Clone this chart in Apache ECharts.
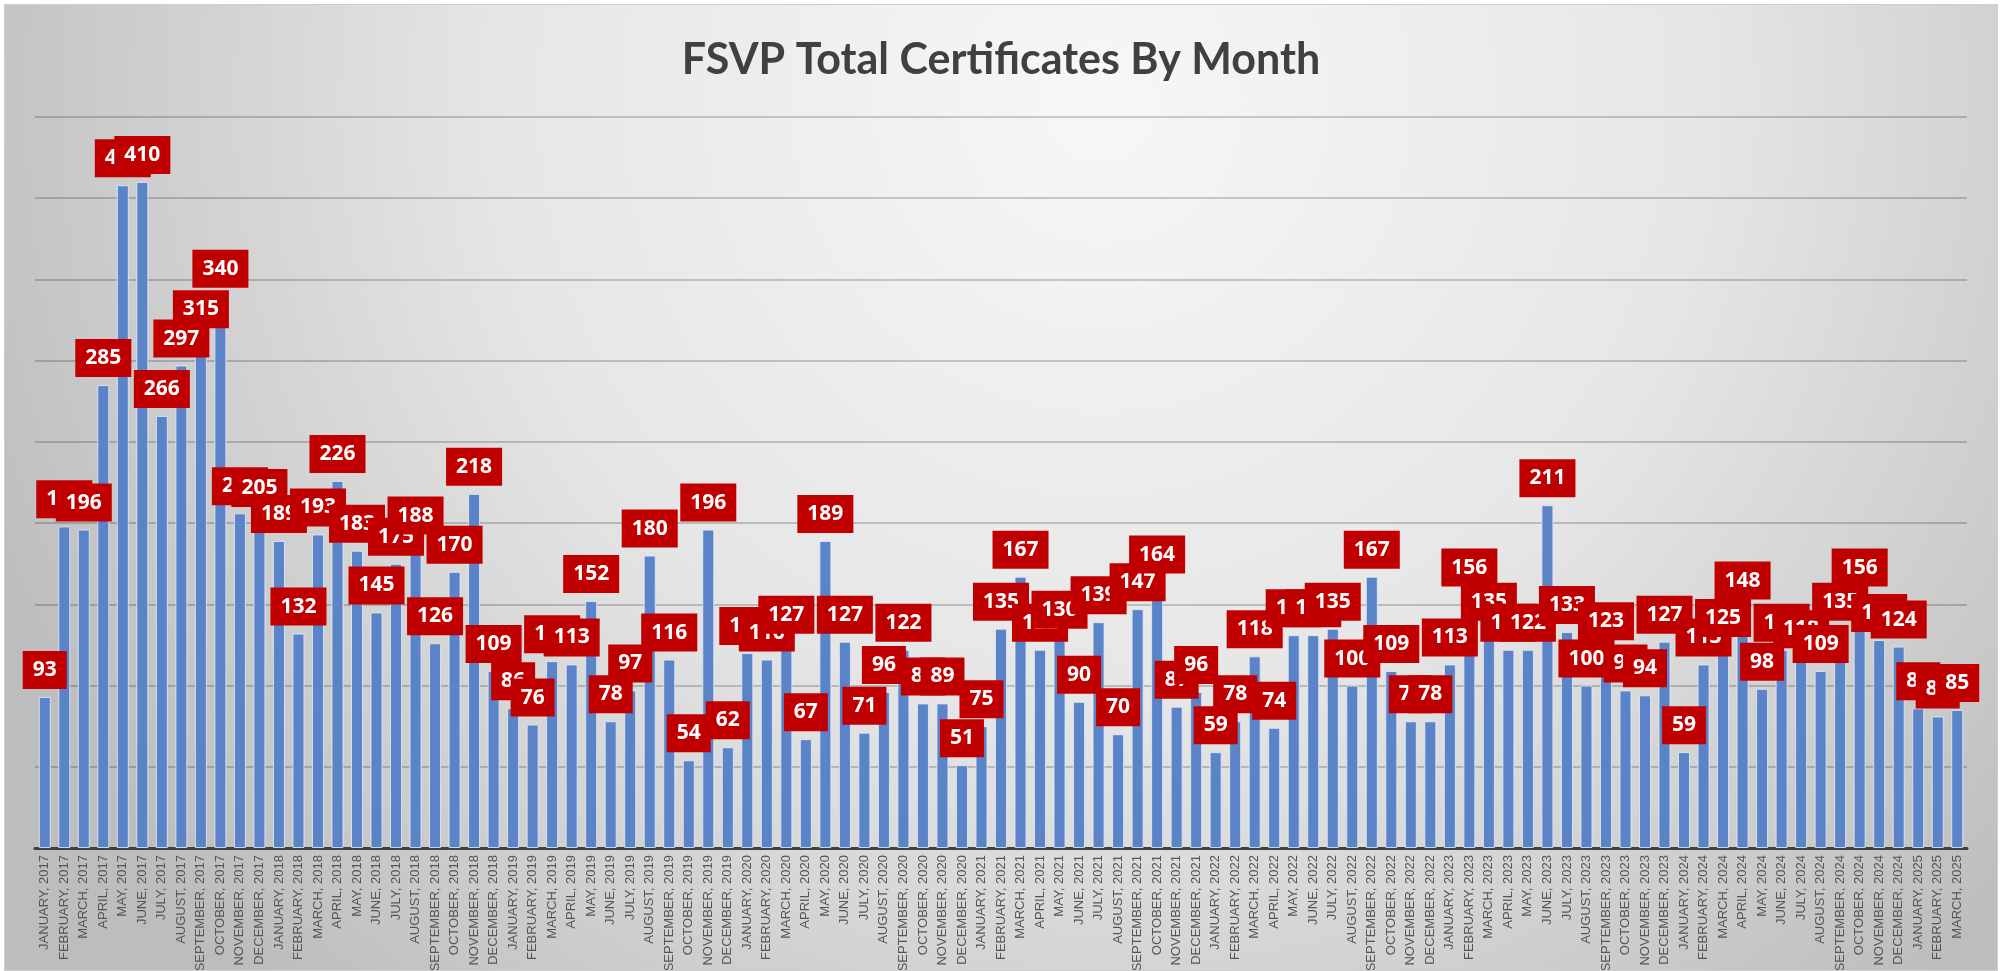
<!DOCTYPE html>
<html>
<head>
<meta charset="utf-8">
<script src="https://cdn.jsdelivr.net/npm/echarts@6/dist/echarts.min.js"></script>
<style>
html,body{margin:0;padding:0;background:#ffffff;width:2001px;height:971px;overflow:hidden}
#frame{position:absolute;left:4px;top:4px;width:1994px;height:967px;border:1px solid #cfcfcf;box-sizing:border-box}
#chart{width:100%;height:100%}
</style>
</head>
<body>
<div id="frame"><div id="chart"></div></div>
<script>
const chartTitle = 'FSVP Total Certificates By Month';

const categories = [
  'JANUARY, 2017','FEBRUARY, 2017','MARCH, 2017','APRIL, 2017','MAY, 2017','JUNE, 2017','JULY, 2017','AUGUST, 2017','SEPTEMBER, 2017','OCTOBER, 2017','NOVEMBER, 2017','DECEMBER, 2017',
  'JANUARY, 2018','FEBRUARY, 2018','MARCH, 2018','APRIL, 2018','MAY, 2018','JUNE, 2018','JULY, 2018','AUGUST, 2018','SEPTEMBER, 2018','OCTOBER, 2018','NOVEMBER, 2018','DECEMBER, 2018',
  'JANUARY, 2019','FEBRUARY, 2019','MARCH, 2019','APRIL, 2019','MAY, 2019','JUNE, 2019','JULY, 2019','AUGUST, 2019','SEPTEMBER, 2019','OCTOBER, 2019','NOVEMBER, 2019','DECEMBER, 2019',
  'JANUARY, 2020','FEBRUARY, 2020','MARCH, 2020','APRIL, 2020','MAY, 2020','JUNE, 2020','JULY, 2020','AUGUST, 2020','SEPTEMBER, 2020','OCTOBER, 2020','NOVEMBER, 2020','DECEMBER, 2020',
  'JANUARY, 2021','FEBRUARY, 2021','MARCH, 2021','APRIL, 2021','MAY, 2021','JUNE, 2021','JULY, 2021','AUGUST, 2021','SEPTEMBER, 2021','OCTOBER, 2021','NOVEMBER, 2021','DECEMBER, 2021',
  'JANUARY, 2022','FEBRUARY, 2022','MARCH, 2022','APRIL, 2022','MAY, 2022','JUNE, 2022','JULY, 2022','AUGUST, 2022','SEPTEMBER, 2022','OCTOBER, 2022','NOVEMBER, 2022','DECEMBER, 2022',
  'JANUARY, 2023','FEBRUARY, 2023','MARCH, 2023','APRIL, 2023','MAY, 2023','JUNE, 2023','JULY, 2023','AUGUST, 2023','SEPTEMBER, 2023','OCTOBER, 2023','NOVEMBER, 2023','DECEMBER, 2023',
  'JANUARY, 2024','FEBRUARY, 2024','MARCH, 2024','APRIL, 2024','MAY, 2024','JUNE, 2024','JULY, 2024','AUGUST, 2024','SEPTEMBER, 2024','OCTOBER, 2024','NOVEMBER, 2024','DECEMBER, 2024',
  'JANUARY, 2025','FEBRUARY, 2025','MARCH, 2025'
];

const certs2017 = [93, 198, 196, 285, 408, 410, 266, 297, 315, 340, 206, 205];
const certs2018 = [189, 132, 193, 226, 183, 145, 175, 188, 126, 170, 218, 109];
const certs2019 = [86, 76, 115, 113, 152, 78, 97, 180, 116, 54, 196, 62];
const certs2020 = [120, 116, 127, 67, 189, 127, 71, 96, 122, 89, 89, 51];
const certs2021 = [75, 135, 167, 122, 130, 90, 139, 70, 147, 164, 87, 96];
const certs2022 = [59, 78, 118, 74, 131, 131, 135, 100, 167, 109, 78, 78];
const certs2023 = [113, 156, 135, 122, 122, 211, 133, 100, 123, 97, 94, 127];
const certs2024 = [59, 113, 125, 148, 98, 122, 118, 109, 135, 156, 128, 124];
const certs2025 = [86, 81, 85];

const yMin = 0, yMax = 450, yStep = 50;

const values = [].concat(certs2017, certs2018, certs2019, certs2020, certs2021,
                         certs2022, certs2023, certs2024, certs2025);

const chart = echarts.init(document.getElementById('chart'), null, {renderer: 'canvas'});
chart.setOption({
  animation: false,
  backgroundColor: {
    type: 'radial', x: 0.55, y: 0.1, r: 1.25,
    colorStops: [
      {offset: 0, color: '#f7f7f7'},
      {offset: 0.5, color: '#e6e6e6'},
      {offset: 1, color: '#bdbdbd'}
    ]
  },
  title: {
    text: chartTitle,
    left: 'center',
    top: 29,
    textStyle: {
      fontFamily: 'Lato, "Open Sans", sans-serif',
      fontWeight: 'bold',
      fontSize: 43,
      color: '#404040'
    }
  },
  grid: {left: 30, right: 30, top: 112, bottom: 122, containLabel: false, outerBoundsMode: 'none'},
  xAxis: {
    type: 'category',
    data: categories,
    axisTick: {show: false},
    axisLine: {show: true, lineStyle: {color: '#404040', width: 3}},
    axisLabel: {
      interval: 0,
      rotate: 90,
      margin: 7,
      color: '#555555',
      fontSize: 13,
      fontFamily: '"Liberation Sans", Arial, sans-serif'
    }
  },
  yAxis: {
    type: 'value',
    min: yMin, max: yMax, interval: yStep,
    axisLabel: {show: false},
    axisLine: {show: false},
    axisTick: {show: false},
    splitLine: {show: true, lineStyle: {color: 'rgba(0,0,0,0.19)', width: 2}}
  },
  series: [{
    type: 'bar',
    data: values,
    barWidth: 12,
    itemStyle: {
      color: '#5b83c8',
      borderColor: 'rgba(225,234,250,0.85)',
      borderWidth: 1
    },
    label: {
      show: true,
      position: 'top',
      distance: 8,
      color: '#ffffff',
      fontWeight: 'bold',
      fontSize: 21,
      fontFamily: '"Open Sans", Lato, sans-serif',
      backgroundColor: '#c00000',
      padding: [11, 10, 11, 10],
      lineHeight: 16
    }
  }]
});
</script>
</body>
</html>
